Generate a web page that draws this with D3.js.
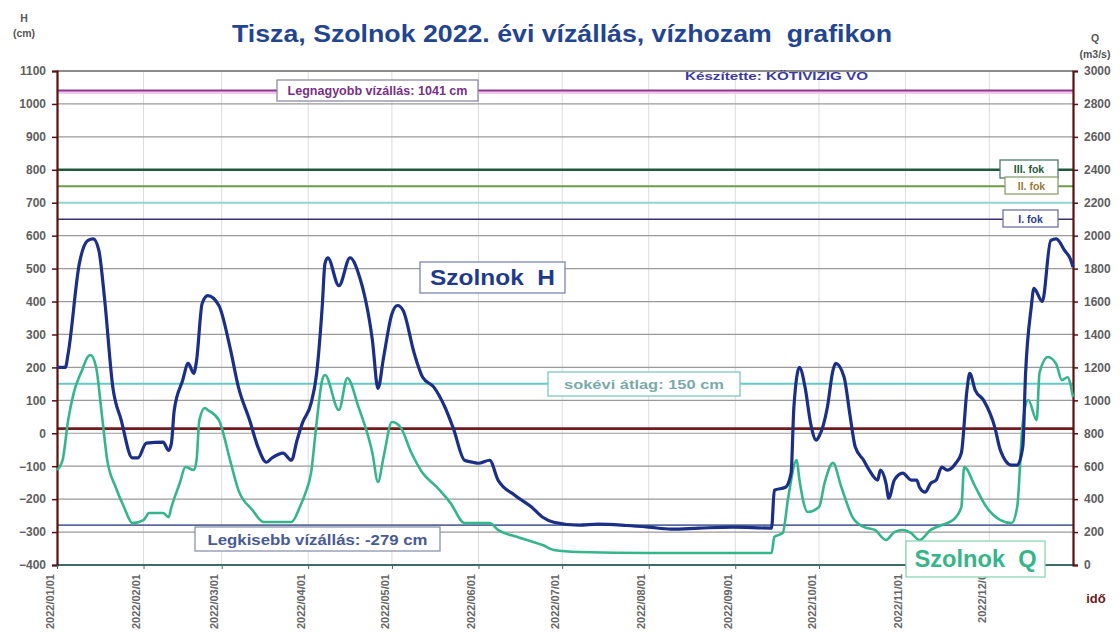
<!DOCTYPE html>
<html><head><meta charset="utf-8">
<script src="https://cdn.jsdelivr.net/npm/d3@7"></script>
<style>body{margin:0;background:#fff;}svg{display:block;font-family:"Liberation Sans",Arial,sans-serif;}text{white-space:pre;}</style>
</head><body>
<svg id="c" width="1120" height="632"></svg>
<script>
// ---- data ----
const hTicks = [-400,-300,-200,-100,0,100,200,300,400,500,600,700,800,900,1000,1100];
const qTicks = [0,200,400,600,800,1000,1200,1400,1600,1800,2000,2200,2400,2600,2800,3000];
const xTickLabels = ["2022/01/01","2022/02/01","2022/03/01","2022/04/01","2022/05/01","2022/06/01","2022/07/01","2022/08/01","2022/09/01","2022/10/01","2022/11/01","2022/12/0"];
// day of year (0 = 2022-01-01) and water level H (cm)
const hDay = [0,3,4,8,11,13,15,17,20,23,27,29,32,38,40,41,42,45,47,49,50,52,54,58,62,65,69,72,75,77,81,84,86,88,91,93,95,96,97,101,105,108,113,115,117,120,122,124,128,131,135,139,142,146,149,151,155,158,164,170,174,178,187,194,204,212,220,230,242,256,257,261,263,264,266,268,270,272,273,276,278,279,282,284,286,289,291,294,295,297,298,300,303,306,308,309,311,313,315,317,319,322,324,326,327,329,332,336,338,342,344,346,347,349,350,353,356,358,361,363,364];
const hValue = [200,200,242,515,585,590,555,412,140,40,-75,-75,-30,-27,-52,-30,70,160,212,182,221,394,418,388,260,140,40,-42,-88,-75,-60,-82,-21,33,90,180,382,515,533,448,533,485,282,136,230,363,388,373,242,170,140,79,15,-82,-88,-91,-82,-142,-188,-224,-255,-270,-279,-276,-280,-285,-291,-288,-285,-288,-173,-164,-121,79,200,140,30,-21,-10,79,191,212,170,61,-42,-82,-112,-142,-112,-152,-197,-142,-121,-142,-142,-164,-179,-152,-142,-103,-112,-91,-60,130,182,130,100,18,-52,-97,-97,-42,180,380,440,400,585,590,555,530,505];
// day of year and discharge Q (m3/s)
const qDay = [0,2,4,6,9,11,12,14,16,18,21,24,27,31,33,38,40,41,44,46,49,50,51,53,54,58,62,65,70,74,81,84,87,89,91,93,95,96,101,104,108,113,115,117,120,123,127,131,136,141,146,155,158,165,174,178,187,212,256,257,260,262,265,266,269,273,275,278,281,285,289,293,297,300,303,306,309,313,317,321,324,325,329,333,338,342,344,346,348,351,352,355,358,360,362,364];
const qValue = [577,637,880,1045,1184,1263,1275,1202,924,637,474,352,255,273,316,316,291,352,498,595,577,637,880,953,941,880,637,455,334,261,261,261,352,437,558,862,1123,1154,941,1136,960,680,504,656,868,838,680,558,474,376,255,255,213,170,121,91,79,73,73,170,194,413,638,516,322,352,498,620,474,291,231,213,152,200,213,194,152,213,243,273,352,595,474,352,273,255,352,862,1002,880,1166,1263,1220,1123,1140,1020];
// reference levels (cm)
const refLevels = [1041, 800, 750, 650, 150, -279];
const refLabels = ["Legnagyobb vízállás: 1041 cm","III. fok","II. fok","I. fok","sokévi átlag: 150 cm","Legkisebb vízállás: -279 cm"];
const baseLevel = 14;
const titleText = "Tisza, Szolnok 2022. évi vízállás, vízhozam  grafikon";

// ---- layout ----
const L = 57, R = 1073, T = 71, B = 565;
const svg = d3.select("#c");
const day0 = new Date(2022,0,1);
const toDate = d => d3.timeDay.offset(day0, d);
const x = d3.scaleTime().domain([day0, new Date(2022,11,31)]).range([L, R]);
const yH = d3.scaleLinear().domain([-400,1100]).range([B, T]);
const yQ = d3.scaleLinear().domain([0,3000]).range([B, T]);
const months = d3.timeMonth.range(day0, new Date(2022,11,2));

// vertical grid
svg.append("g").selectAll("line").data(months.slice(1)).join("line")
  .attr("x1", d => x(d)).attr("x2", d => x(d)).attr("y1", T).attr("y2", B)
  .attr("stroke", "#dcdcdc").attr("stroke-width", 1);

// horizontal grid
svg.append("g").selectAll("line").data(hTicks.slice(1)).join("line")
  .attr("x1", L).attr("x2", R).attr("y1", d => yH(d)).attr("y2", d => yH(d))
  .attr("stroke", d => d === 700 ? "#8fd3d3" : "#9a9a9a")
  .attr("stroke-width", d => d === 700 ? 2 : 1.2);

// reference lines
const refStyle = [
  {c:"#8b3a8f", w:2, glow:"#f3c6f0"},
  {c:"#1f5a3a", w:2.5},
  {c:"#6f9a4a", w:2},
  {c:"#3a3070", w:1.6},
  {c:"#66c9c4", w:2},
  {c:"#5a6a9a", w:1.6}
];
refLevels.forEach((v,i) => {
  const s = refStyle[i];
  if (s.glow) svg.append("line").attr("x1",L).attr("x2",R).attr("y1",yH(v)+2).attr("y2",yH(v)+2).attr("stroke",s.glow).attr("stroke-width",3);
  svg.append("line").attr("x1",L).attr("x2",R).attr("y1",yH(v)).attr("y2",yH(v)).attr("stroke",s.c).attr("stroke-width",s.w);
});
svg.append("line").attr("x1",L).attr("x2",R).attr("y1",yH(baseLevel)).attr("y2",yH(baseLevel)).attr("stroke","#6e1c1c").attr("stroke-width",2.6);

// frame
svg.append("line").attr("x1",L).attr("x2",R).attr("y1",T).attr("y2",T).attr("stroke","#777").attr("stroke-width",1.5);
svg.append("line").attr("x1",L).attr("x2",R).attr("y1",B).attr("y2",B).attr("stroke","#3d6b66").attr("stroke-width",2);

// axes
const fmt = d3.format("d");
const axL = svg.append("g").attr("transform",`translate(${L},0)`)
  .call(d3.axisLeft(yH).tickValues(hTicks).tickFormat(fmt).tickSize(5).tickPadding(6));
const axR = svg.append("g").attr("transform",`translate(${R},0)`)
  .call(d3.axisRight(yQ).tickValues(qTicks).tickFormat(fmt).tickSize(5).tickPadding(6));
[axL, axR].forEach(a => {
  a.select(".domain").attr("stroke","#5a1010").attr("stroke-width",2.2);
  a.selectAll(".tick line").attr("stroke","#5a1010").attr("stroke-width",1.5);
  a.selectAll(".tick text").attr("fill","#5e5e5e").attr("font-size","12px").attr("font-weight","bold");
});
const axB = svg.append("g").attr("transform",`translate(0,${B})`)
  .call(d3.axisBottom(x).tickValues(months).tickSize(4).tickFormat((d,i) => xTickLabels[i]));
axB.select(".domain").remove();
axB.selectAll(".tick line").attr("stroke","#3d6b66");
axB.selectAll(".tick text").attr("fill","#666").attr("font-size","11px").attr("font-weight","bold")
  .attr("transform","rotate(-90)").attr("text-anchor","end").attr("dx","-5").attr("dy","-0.35em").attr("y",0).attr("x",-4);

// series
const lineH = d3.line().x((d,i) => x(toDate(hDay[i]))).y(d => yH(d)).curve(d3.curveMonotoneX);
const lineQ = d3.line().x((d,i) => x(toDate(qDay[i]))).y(d => yQ(d)).curve(d3.curveMonotoneX);
svg.append("path").attr("d", lineQ(qValue)).attr("fill","none").attr("stroke","#35b58c").attr("stroke-width",2.6).attr("stroke-linejoin","round");
svg.append("path").attr("d", lineH(hValue)).attr("fill","none").attr("stroke","#1b2f86").attr("stroke-width",3.2).attr("stroke-linejoin","round");

// label boxes
function box(x0, y0, w, h, text, size, color, border, tlen) {
  svg.append("rect").attr("x",x0).attr("y",y0).attr("width",w).attr("height",h)
    .attr("fill","#fff").attr("stroke",border).attr("stroke-width",1.3);
  const t = svg.append("text").attr("x", x0 + w/2).attr("y", y0 + h/2)
    .attr("text-anchor","middle").attr("dominant-baseline","central")
    .attr("font-size", size).attr("font-weight","bold").attr("fill", color).text(text);
  if (tlen) t.attr("textLength", tlen).attr("lengthAdjust","spacingAndGlyphs");
}
box(277, 80, 201, 21, refLabels[0], "13.5px", "#7a2f86", "#8a8aa0", 180);
box(1000, 160, 58, 18, refLabels[1], "10.5px", "#1f5a3a", "#4a7a6a");
box(1005, 177, 53, 17, refLabels[2], "10.5px", "#9a7a3a", "#8aa070");
box(1003, 210, 55, 17, refLabels[3], "10.5px", "#2a3a9a", "#7070a0");
box(548, 372, 192, 24, refLabels[4], "13px", "#79aaa8", "#7cc9c4", 160);
box(195, 527, 245, 24, refLabels[5], "15px", "#4a5a94", "#8a94b0", 220);
box(420, 262, 145, 31, "Szolnok  H", "22px", "#1f3a8a", "#7a86b0", 125);
box(906, 541, 139, 36, "Szolnok  Q", "23px", "#36b48a", "#8ad6b4", 122);

// texts
svg.append("text").attr("x",562).attr("y",42).attr("text-anchor","middle").attr("font-size","23px").attr("font-weight","bold").attr("fill","#23448f")
  .attr("textLength",660).attr("lengthAdjust","spacingAndGlyphs").text(titleText);
svg.append("text").attr("x",685).attr("y",80).attr("font-size","11px").attr("font-weight","bold").attr("fill","#3a3aa0")
  .attr("textLength",183).attr("lengthAdjust","spacingAndGlyphs").text("Készítette: KÖTIVIZIG VO");
svg.append("text").attr("x",24).attr("y",22).attr("text-anchor","middle").attr("font-size","10.5px").attr("font-weight","bold").attr("fill","#555").text("H");
svg.append("text").attr("x",24).attr("y",37).attr("text-anchor","middle").attr("font-size","10.5px").attr("font-weight","bold").attr("fill","#555").text("(cm)");
svg.append("text").attr("x",1095).attr("y",42).attr("text-anchor","middle").attr("font-size","10.5px").attr("font-weight","bold").attr("fill","#555").text("Q");
svg.append("text").attr("x",1095).attr("y",58).attr("text-anchor","middle").attr("font-size","10.5px").attr("font-weight","bold").attr("fill","#555").text("(m3/s)");
svg.append("text").attr("x",1096).attr("y",603).attr("text-anchor","middle").attr("font-size","13px").attr("font-weight","bold").attr("fill","#6a1a1a").text("idő");
</script>
</body></html>
